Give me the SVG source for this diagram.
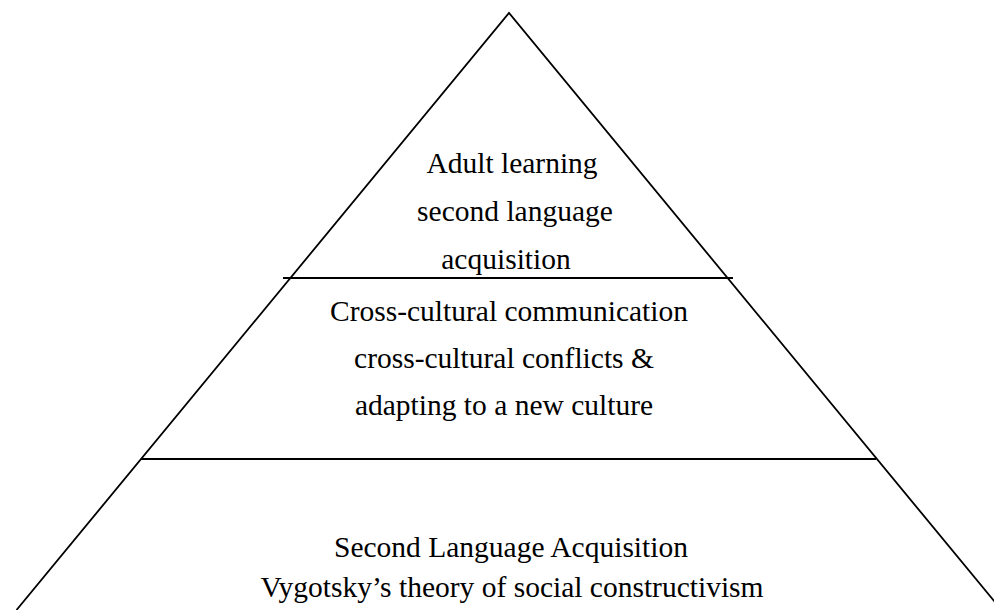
<svg xmlns="http://www.w3.org/2000/svg" width="994" height="610" viewBox="0 0 994 610">
<style>
.ln{stroke:#000;stroke-width:1.8;fill:none}
.t{font-family:"Liberation Serif","Times New Roman",serif;font-size:29.5px;fill:#000}
</style>
<rect width="994" height="610" fill="#fff"/>
<g id="connectors">
<polyline class="ln" points="16.5,610 509,13 1001.5,610"/>
<line class="ln" x1="283" y1="278" x2="733" y2="278"/>
<line class="ln" x1="141" y1="459" x2="876" y2="459"/>
</g>
<g id="top">
<text class="t" x="512" y="173" text-anchor="middle">Adult learning</text>
<text class="t" x="515" y="221" text-anchor="middle">second language</text>
<text class="t" x="506" y="269" text-anchor="middle">acquisition</text>
</g>
<g id="middle">
<text class="t" x="509" y="321" text-anchor="middle">Cross-cultural communication</text>
<text class="t" x="504" y="368" text-anchor="middle">cross-cultural conflicts &amp;</text>
<text class="t" x="504" y="415" text-anchor="middle">adapting to a new culture</text>
</g>
<g id="bottom">
<text class="t" x="511" y="557" text-anchor="middle">Second Language Acquisition</text>
<text class="t" x="512" y="597" text-anchor="middle">Vygotsky’s theory of social constructivism</text>
</g>
</svg>
